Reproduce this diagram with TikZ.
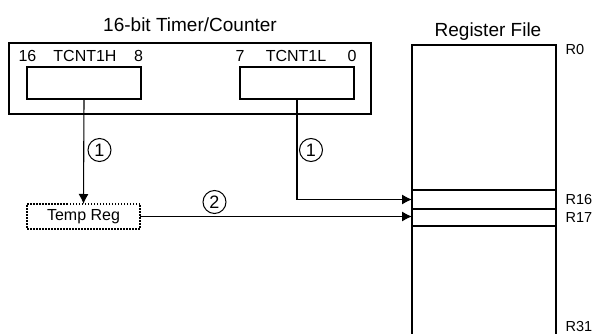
\documentclass[tikz,border=0pt]{standalone}
\usepackage{fontspec}
\setmainfont{Liberation Sans}
\usetikzlibrary{arrows.meta,positioning}

\begin{document}
\begin{tikzpicture}[x=1pt,y=-1pt,line width=1.1pt,
  box/.style={draw,rectangle,inner sep=0pt,outer sep=0pt},
  cell/.style={rectangle,minimum width=144pt,inner sep=0pt,outer sep=0pt},
  num/.style={circle,draw,line width=1pt,minimum size=23pt,inner sep=0pt,font=\fontsize{18}{18}\selectfont},
  lbl/.style={inner sep=0pt,anchor=base,font=\fontsize{16}{16}\selectfont},
  reglbl/.style={inner sep=0pt,anchor=west,font=\fontsize{14.5}{14.5}\selectfont},
  title/.style={inner sep=0pt,anchor=base,font=\fontsize{19}{19}\selectfont},
  flow/.style={-{Latex[length=10pt,width=10pt]}}]
\useasboundingbox (0,0) rectangle (592,334);

% timer/counter block
\node[title] (ttitle) at (190,32) {16-bit Timer/Counter};
\node[box,minimum width=362pt,minimum height=71pt] (timer) at (190,78.5) {};
\node[box,minimum width=114pt,minimum height=32pt] (th) at (84,83) {};
\node[box,minimum width=114pt,minimum height=32pt] (tl) at (297,83) {};
\foreach \pos/\name/\txt in {{(27.5,62)/bhi/16}, {(85,62)/hname/TCNT1H}, {(138.5,62)/bmid/8}, {(240,62)/blo/7}, {(296,62)/lname/TCNT1L}, {(352,62)/bzero/0}}
\node[lbl] (\name) at \pos {\txt};

% register file
\node[title] (rtitle) at (488,37) {Register File};
\node[box,minimum width=144pt,minimum height=295pt,anchor=north west] (reg) at (412,45) {};
\node[cell,minimum height=19pt] (r16) at (484,199.5) {};
\node[cell,minimum height=17pt] (r17) at (484,217.5) {};
\draw (r16.north west) -- (r16.north east);
\draw (r17.north west) -- (r17.north east);
\draw (r17.south west) -- (r17.south east);
\node[reglbl] (lr0) at (565,50) {R0};
\node[reglbl,right=9pt of r16] (lr16) {R16};
\node[reglbl,right=9pt of r17] (lr17) {R17};
\node[reglbl] (lr31) at (565,327) {R31};

% temp register
\node[box,dash pattern=on 1.5pt off 1.5pt,minimum width=113pt,minimum height=25pt,font=\fontsize{16}{16}\selectfont] (temp) at (83.5,216.5) {Temp Reg};

% transfers
\draw[flow] (th.south) -- (temp.north);
\draw[flow] (tl.south) |- (r16.west);
\draw[flow] (temp.east) -- (temp.east -| r17.west);
\node[num] (s1a) at (99.5,150) {1};
\node[num] (s1b) at (311,150) {1};
\node[num] (s2) at (214.5,202) {2};

\end{tikzpicture}
\end{document}
